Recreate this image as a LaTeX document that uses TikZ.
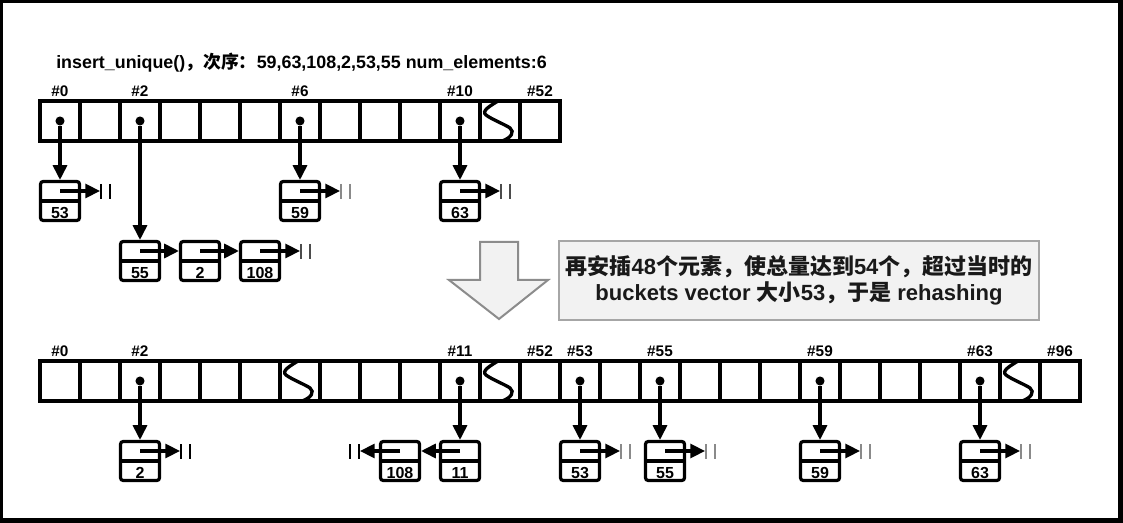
\documentclass[tikz,border=0pt]{standalone}
\usepackage{fontspec}
\setmainfont{Liberation Sans}
\newfontfamily\cjk{Noto Sans CJK SC}
\usetikzlibrary{arrows.meta}
\definecolor{boxfill}{HTML}{F2F2F2}
\definecolor{boxline}{HTML}{A6A6A6}
\definecolor{arrline}{HTML}{8C8C8C}
\definecolor{nullgray}{HTML}{8A8A8A}
\newcommand\nullright[2]{%
  \draw[nbar,#2] ([shift={(1,-7)}]#1) -- ([shift={(1,8)}]#1);
  \draw[nbar,#2] ([shift={(10,-7)}]#1) -- ([shift={(10,8)}]#1);}
\newcommand\nullleft[2]{%
  \draw[nbar,#2] ([shift={(-1,-7)}]#1) -- ([shift={(-1,8)}]#1);
  \draw[nbar,#2] ([shift={(-10,-7)}]#1) -- ([shift={(-10,8)}]#1);}
\begin{document}
\begin{tikzpicture}[x=0.75pt,y=-0.75pt,
  cell/.style={draw, line width=2.5pt, minimum width=30pt, minimum height=30pt, inner sep=0pt},
  lab/.style={font=\bfseries\fontsize{11.5}{13}\selectfont, anchor=base, inner sep=0pt},
  lnode/.style={draw, line width=2.4pt, rounded corners=2pt, minimum width=29.25pt, minimum height=29.25pt,
    text height=26.25pt, text depth=0pt, inner xsep=0pt, inner ysep=1.5pt,
    font=\bfseries\fontsize{12}{14}\selectfont, fill=white,
    path picture={\draw[line width=2.4pt] (path picture bounding box.west) -- (path picture bounding box.east);}},
  dotn/.style={circle, fill, inner sep=0pt, minimum size=6.8pt},
  ptr/.style={line width=2.3pt, -{Triangle[length=11pt,width=10.5pt]}},
  nbar/.style={line width=1.5pt},
  sq/.style={line width=2.5pt},
]
\useasboundingbox (0,0) rectangle (1123,523);
\fill[black] (0,0) rectangle (1123,523);
\fill[white] (3,3) rectangle (1118,518);

% title
\node[font=\bfseries\fontsize{13.4}{16}\selectfont, anchor=base west, inner sep=0pt] (title) at (56,69)
  {insert\_unique(){\cjk ，次序：}59,63,108,2,53,55 num\_elements:6};

% ---------- top array ----------
\foreach \i in {0,...,12} \node[cell] (tA\i) at ({60+40*\i},121) {};
\draw[sq, shift={(tA11.center)}] (-2,-20) .. controls (-10,-15) and (-19,-10) .. (-14,-6) .. controls (-9,-2) and (6,4) .. (10,7) .. controls (15,11) and (11,17) .. (2,20);
\node[lab] (lA0) at (60,97) {\#0};
\node[lab] (lA2) at (140,97) {\#2};
\node[lab] (lA6) at (300,97) {\#6};
\node[lab] (lA10) at (460,97) {\#10};
\node[lab] (lA52) at (540,97) {\#52};
\foreach \i in {0,2,6,10} \node[dotn] (dA\i) at (tA\i.center) {};

% top list nodes
\node[lnode] (n53) at (60,201) {53};
\node[lnode] (n59) at (300,201) {59};
\node[lnode] (n63) at (460,201) {63};
\node[lnode] (n55) at (140,261) {55};
\node[lnode] (n2a) at (200,261) {2};
\node[lnode] (n108a) at (260,261) {108};

\draw[ptr] (dA0) -- (n53);
\draw[ptr] (dA2) -- (n55);
\draw[ptr] (dA6) -- (n59);
\draw[ptr] (dA10) -- (n63);

\coordinate (z53) at ([shift={(40,-10)}]n53.center);
\coordinate (z59) at ([shift={(40,-10)}]n59.center);
\coordinate (z63) at ([shift={(40,-10)}]n63.center);
\coordinate (z108a) at ([shift={(40,-10)}]n108a.center);
\draw[ptr] ([yshift=7.5pt]n53.center) -- (z53);
\draw[ptr] ([yshift=7.5pt]n59.center) -- (z59);
\draw[ptr] ([yshift=7.5pt]n63.center) -- (z63);
\draw[ptr] ([yshift=7.5pt]n55.center) -- ([yshift=7.5pt]n2a.west);
\draw[ptr] ([yshift=7.5pt]n2a.center) -- ([yshift=7.5pt]n108a.west);
\draw[ptr] ([yshift=7.5pt]n108a.center) -- (z108a);
\nullright{z53}{black}
\nullright{z59}{nullgray}
\nullright{z63}{black!70}
\nullright{z108a}{black!70}

% ---------- big arrow and message ----------
\draw[draw=arrline, fill=boxfill, line width=1.5pt, line join=miter]
  (480,242) -- (518,242) -- (518,280) -- (548,280) -- (499,319) -- (449,280) -- (480,280) -- cycle;
\node[draw=boxline, fill=boxfill, line width=1.5pt, minimum width=360pt, minimum height=59.25pt,
  align=center, font=\bfseries\fontsize{16.5}{19.5}\selectfont, text=black!90] (msg) at (799,280.5)
  {{\cjk 再安插}48{\cjk 个元素，使总量达到}54{\cjk 个，超过当时的}\\buckets vector {\cjk 大小}53{\cjk ，于是} rehashing};

% ---------- bottom array ----------
\foreach \i in {0,...,25} \node[cell] (tB\i) at ({60+40*\i},381) {};
\foreach \k in {6,11,24}
  \draw[sq, shift={(tB\k.center)}] (-2,-20) .. controls (-10,-15) and (-19,-10) .. (-14,-6) .. controls (-9,-2) and (6,4) .. (10,7) .. controls (15,11) and (11,17) .. (2,20);
\node[lab] (lB0) at (60,357) {\#0};
\node[lab] (lB2) at (140,357) {\#2};
\node[lab] (lB11) at (460,357) {\#11};
\node[lab] (lB52) at (540,357) {\#52};
\node[lab] (lB53) at (580,357) {\#53};
\node[lab] (lB55) at (660,357) {\#55};
\node[lab] (lB59) at (820,357) {\#59};
\node[lab] (lB63) at (980,357) {\#63};
\node[lab] (lB96) at (1060,357) {\#96};
\foreach \i in {2,10,13,15,19,23} \node[dotn] (dB\i) at (tB\i.center) {};

\node[lnode] (m2) at (140,461) {2};
\node[lnode] (m11) at (460,461) {11};
\node[lnode] (m108) at (400,461) {108};
\node[lnode] (m53) at (580,461) {53};
\node[lnode] (m55) at (665,461) {55};
\node[lnode] (m59) at (820,461) {59};
\node[lnode] (m63) at (980,461) {63};

\draw[ptr] (dB2) -- (m2);
\draw[ptr] (dB10) -- (m11);
\draw[ptr] (dB13) -- (m53);
\draw[ptr] (dB15) -- (dB15 |- m55.north);
\draw[ptr] (dB19) -- (m59);
\draw[ptr] (dB23) -- (m63);

\coordinate (y2) at ([shift={(40,-10)}]m2.center);
\coordinate (y108) at ([shift={(-40,-10)}]m108.center);
\coordinate (y53) at ([shift={(40,-10)}]m53.center);
\coordinate (y55) at ([shift={(40,-10)}]m55.center);
\coordinate (y59) at ([shift={(40,-10)}]m59.center);
\coordinate (y63) at ([shift={(40,-10)}]m63.center);
\draw[ptr] ([yshift=7.5pt]m2.center) -- (y2);
\draw[ptr] ([yshift=7.5pt]m11.center) -- ([yshift=7.5pt]m108.east);
\draw[ptr] ([yshift=7.5pt]m108.center) -- (y108);
\draw[ptr] ([yshift=7.5pt]m53.center) -- (y53);
\draw[ptr] ([yshift=7.5pt]m55.center) -- (y55);
\draw[ptr] ([yshift=7.5pt]m59.center) -- (y59);
\draw[ptr] ([yshift=7.5pt]m63.center) -- (y63);
\nullright{y2}{black}
\nullleft{y108}{black}
\nullright{y53}{nullgray}
\nullright{y55}{nullgray}
\nullright{y59}{nullgray}
\nullright{y63}{nullgray}
\end{tikzpicture}
\end{document}
